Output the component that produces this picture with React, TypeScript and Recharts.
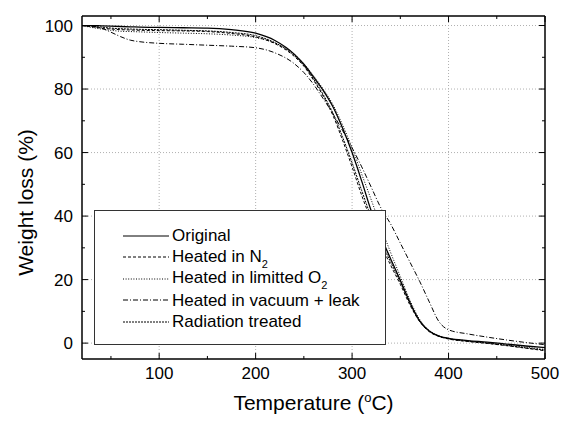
import React from 'react';
import { LineChart, Line, XAxis, YAxis, ReferenceLine, Legend } from 'recharts';

const temps = [20, 30, 40, 50, 60, 70, 80, 100, 125, 150, 175, 200, 220, 240, 250, 260, 270, 280, 290, 300, 310, 320, 330, 340, 350, 360, 370, 380, 390, 400, 420, 440, 460, 480, 500];
const original = [100, 100, 99.9, 99.8, 99.7, 99.6, 99.5, 99.4, 99.3, 99.2, 98.7, 97.6, 95.3, 91, 87.8, 83.8, 79.6, 74.5, 67.8, 60, 51, 41.5, 33.5, 26.5, 19.8, 12.8, 7, 3.8, 2.2, 1.5, 0.8, 0.3, -0.3, -0.9, -1.4];
const heatedN2 = [100, 99.6, 99.2, 98.9, 98.7, 98.6, 98.5, 98.4, 98.3, 98.1, 97.5, 96.4, 94.3, 90.3, 87.2, 82.8, 77.8, 71.8, 64, 55.5, 46.5, 38.5, 31, 24.5, 18.5, 12, 6.8, 3.6, 2.1, 1.3, 0.5, -0.1, -0.8, -1.6, -2.4];
const limitedO2 = [100, 99.4, 98.9, 98.5, 98.2, 98.1, 98, 97.8, 97.6, 97.4, 97, 96.2, 94.5, 91, 88, 84.2, 80, 75.2, 68.8, 61.5, 53.2, 45, 36.5, 28.5, 21, 13.5, 7.5, 4, 2.3, 1.5, 0.7, 0.1, -0.6, -1.3, -2];
const vacuumLeak = [100, 99.8, 99.2, 97.9, 96.5, 95.4, 94.9, 94.4, 94.1, 93.8, 93.5, 93, 91.4, 88, 85.2, 81.5, 77, 72.3, 67, 61.5, 55.5, 49, 42.5, 37.5, 31.5, 25.5, 19.5, 13, 6.8, 4.2, 2.9, 1.9, 1, 0.2, -0.5];
const radiation = [100, 99.8, 99.5, 99.2, 99, 98.9, 98.8, 98.7, 98.5, 98.3, 97.8, 96.8, 94.6, 90.6, 87.4, 83.2, 78.3, 72.5, 65, 56.8, 48, 39.5, 32, 25.5, 19.2, 12.5, 7, 3.8, 2.2, 1.4, 0.6, 0, -0.7, -1.5, -2.2];

const X_MIN = 20;
const X_MAX = 500;
const Y_MIN = -5;
const Y_MAX = 103;
const xTicks = [50, 100, 150, 200, 250, 300, 350, 400, 450, 500];
const xMajor = [100, 200, 300, 400, 500];
const yTicks = [0, 10, 20, 30, 40, 50, 60, 70, 80, 90, 100];
const yMajor = [0, 20, 40, 60, 80, 100];
const xGrid = [100, 200, 300, 400];
const yGrid = [0, 20, 40, 60, 80, 100];

// tick lengths expressed in axis units (about 6px major / 3px minor)
const X_TICK_MAJ = 6.2;
const X_TICK_MIN = 3.1;
const Y_TICK_MAJ = 1.9;
const Y_TICK_MIN = 0.95;

const series = [
  { key: 'original', name: 'Original', dash: undefined as string | undefined, sub: '' },
  { key: 'n2', name: 'Heated in N', dash: '3 2', sub: '2' },
  { key: 'o2', name: 'Heated in limitted O', dash: '1 1.6', sub: '2' },
  { key: 'vac', name: 'Heated in vacuum + leak', dash: '5 2 1 2', sub: '' },
  { key: 'rad', name: 'Radiation treated', dash: '2 1', sub: '' },
];

const data = temps.map((t, i) => ({
  t,
  original: original[i],
  n2: heatedN2[i],
  o2: limitedO2[i],
  vac: vacuumLeak[i],
  rad: radiation[i],
}));

const FONT = 'Arial, "Liberation Sans", Helvetica, sans-serif';

const BottomTick = (p: any) => {
  const v = p.payload.value;
  if (!xMajor.includes(v)) return <g />;
  return (
    <text x={p.x} y={p.y} dy="0.71em" textAnchor="middle" fontSize={17} fontFamily={FONT} fill="#000">
      {v}
    </text>
  );
};

const LeftTick = (p: any) => {
  const v = p.payload.value;
  if (!yMajor.includes(v)) return <g />;
  return (
    <text x={p.x} y={p.y} dy="0.355em" textAnchor="end" fontSize={17} fontFamily={FONT} fill="#000">
      {v}
    </text>
  );
};

const XTitle = (p: any) => {
  const vb = p.viewBox;
  const cx = vb.x + vb.width / 2;
  return (
    <text x={cx} y={vb.y + 51} textAnchor="middle" fontSize={21} fontFamily={FONT} fill="#000">
      Temperature (<tspan dy={-8} fontSize={13}>o</tspan>
      <tspan dy={8}>C)</tspan>
    </text>
  );
};

const YTitle = (p: any) => {
  const vb = p.viewBox;
  const cy = vb.y + vb.height / 2 + 15;
  const cx = 25;
  return (
    <text x={cx} y={cy} transform={`rotate(-90 ${cx} ${cy})`} textAnchor="middle" dominantBaseline="central" fontSize={21} fontFamily={FONT} fill="#000">
      Weight loss (%)
    </text>
  );
};

const LegendBox = () => (
  <div
    style={{
      width: 292,
      height: 135,
      boxSizing: 'border-box',
      border: '1.5px solid #333',
      background: '#fff',
      paddingTop: 14,
      fontFamily: FONT,
      fontSize: 17,
      color: '#000',
    }}
  >
    {series.map((s) => (
      <div key={s.key} style={{ height: 21.5, display: 'flex', alignItems: 'center', whiteSpace: 'nowrap' }}>
        <svg width={46} height={8} style={{ marginLeft: 28, marginRight: 3, flex: 'none' }}>
          <line x1={0} x2={46} y1={4} y2={4} stroke="#000" strokeWidth={1} strokeDasharray={s.dash} />
        </svg>
        <span style={{ lineHeight: '21.5px' }}>
          {s.name}
          {s.sub && <span style={{ fontSize: 11, position: 'relative', top: 6 }}>{s.sub}</span>}
        </span>
      </div>
    ))}
  </div>
);

export default function App() {
  const tickStyle = { stroke: '#000', strokeWidth: 1 };
  return (
    <div style={{ position: 'absolute', left: 0, top: 0, background: '#fff' }}>
      <LineChart width={563} height={426} data={data} margin={{ top: 16, right: 18, bottom: 0, left: 0 }}>
        <XAxis
          xAxisId="b"
          dataKey="t"
          type="number"
          domain={[X_MIN, X_MAX]}
          ticks={xTicks}
          allowDataOverflow
          height={67}
          tickSize={0}
          tickMargin={8}
          tick={<BottomTick />}
          tickLine={false}
          axisLine={{ stroke: '#000', strokeWidth: 1.5 }}
          label={<XTitle />}
          interval={0}
        />
        <YAxis
          yAxisId="l"
          type="number"
          domain={[Y_MIN, Y_MAX]}
          ticks={yTicks}
          allowDataOverflow
          width={82}
          tickSize={0}
          tickMargin={9}
          tick={<LeftTick />}
          tickLine={false}
          axisLine={{ stroke: '#000', strokeWidth: 1.5 }}
          label={<YTitle />}
          interval={0}
        />
        {xGrid.map((v) => (
          <ReferenceLine key={'gx' + v} xAxisId="b" yAxisId="l" x={v} stroke="#b0b0b0" strokeDasharray="1 2" />
        ))}
        {yGrid.map((v) => (
          <ReferenceLine key={'gy' + v} xAxisId="b" yAxisId="l" y={v} stroke="#b0b0b0" strokeDasharray="1 2" />
        ))}
        {series.map((s) => (
          <Line
            key={s.key}
            xAxisId="b"
            yAxisId="l"
            type="monotone"
            dataKey={s.key}
            name={s.name}
            stroke="#000"
            strokeWidth={s.dash ? 1 : 1.3}
            strokeDasharray={s.dash}
            dot={false}
            activeDot={false}
            isAnimationActive={false}
          />
        ))}
        {/* frame: top and right edges */}
        <ReferenceLine xAxisId="b" yAxisId="l" y={Y_MAX} stroke="#000" strokeWidth={1.5} />
        <ReferenceLine xAxisId="b" yAxisId="l" x={X_MAX} stroke="#000" strokeWidth={1.5} />
        {/* inward ticks on all four sides */}
        {xTicks.map((v) => {
          const len = xMajor.includes(v) ? Y_TICK_MAJ : Y_TICK_MIN;
          return (
            <React.Fragment key={'xt' + v}>
              <ReferenceLine xAxisId="b" yAxisId="l" segment={[{ x: v, y: Y_MIN }, { x: v, y: Y_MIN + len }]} {...tickStyle} />
              <ReferenceLine xAxisId="b" yAxisId="l" segment={[{ x: v, y: Y_MAX }, { x: v, y: Y_MAX - len }]} {...tickStyle} />
            </React.Fragment>
          );
        })}
        {yTicks.map((v) => {
          const len = yMajor.includes(v) ? X_TICK_MAJ : X_TICK_MIN;
          return (
            <React.Fragment key={'yt' + v}>
              <ReferenceLine xAxisId="b" yAxisId="l" segment={[{ x: X_MIN, y: v }, { x: X_MIN + len, y: v }]} {...tickStyle} />
              <ReferenceLine xAxisId="b" yAxisId="l" segment={[{ x: X_MAX, y: v }, { x: X_MAX - len, y: v }]} {...tickStyle} />
            </React.Fragment>
          );
        })}
        <Legend
          layout="vertical"
          align="center"
          verticalAlign="middle"
          content={<LegendBox />}
          wrapperStyle={{ left: 94, top: 210, width: 292, height: 135 }}
        />
      </LineChart>
    </div>
  );
}
